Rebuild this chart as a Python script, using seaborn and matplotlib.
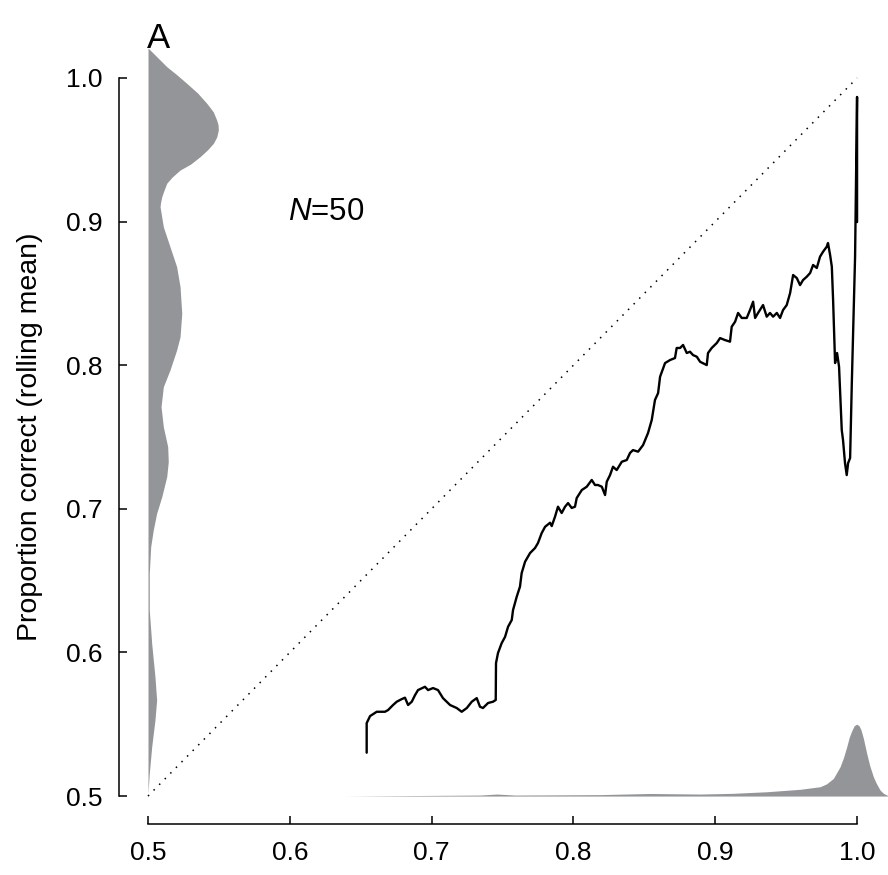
import matplotlib
matplotlib.use("Agg")
import matplotlib.pyplot as plt
import seaborn as sns
import pandas as pd

# rolling mean of proportion correct
roll_x = [0.6542, 0.6542, 0.6566, 0.6613, 0.6671, 0.6693, 0.6728, 0.6754, 0.6789, 0.6812,
          0.6834, 0.6860, 0.6883, 0.6904, 0.6953, 0.6975, 0.7010, 0.7045, 0.7080, 0.7130,
          0.7177, 0.7212, 0.7248, 0.7283, 0.7318, 0.7341, 0.7362, 0.7398, 0.7433, 0.7452,
          0.7454, 0.7468, 0.7494, 0.7518, 0.7539, 0.7565, 0.7574, 0.7600, 0.7623, 0.7635,
          0.7659, 0.7694, 0.7729, 0.7750, 0.7776, 0.7800, 0.7835, 0.7847, 0.7870, 0.7891,
          0.7917, 0.7941, 0.7962, 0.7988, 0.8011, 0.8023, 0.8059, 0.8094, 0.8129, 0.8152,
          0.8173, 0.8200, 0.8223, 0.8235, 0.8258, 0.8279, 0.8305, 0.8341, 0.8376, 0.8399,
          0.8420, 0.8456, 0.8491, 0.8526, 0.8552, 0.8575, 0.8597, 0.8611, 0.8646, 0.8681,
          0.8716, 0.8728, 0.8752, 0.8773, 0.8799, 0.8822, 0.8843, 0.8870, 0.8893, 0.8940,
          0.8949, 0.8975, 0.9011, 0.9034, 0.9069, 0.9104, 0.9116, 0.9140, 0.9161, 0.9187,
          0.9222, 0.9245, 0.9267, 0.9281, 0.9302, 0.9337, 0.9363, 0.9386, 0.9408, 0.9434,
          0.9457, 0.9478, 0.9504, 0.9528, 0.9549, 0.9575, 0.9598, 0.9619, 0.9645, 0.9669,
          0.9690, 0.9716, 0.9739, 0.9760, 0.9786, 0.9795, 0.9810, 0.9822, 0.9831, 0.9845,
          0.9859, 0.9873, 0.9892, 0.9901, 0.9915, 0.9927, 0.9937, 0.9951, 0.9963, 0.9972,
          0.9986, 0.9993, 1.0000, 1.0000]
roll_y = [0.5302, 0.5508, 0.5557, 0.5587, 0.5587, 0.5599, 0.5634, 0.5657, 0.5675, 0.5685,
          0.5634, 0.5657, 0.5703, 0.5738, 0.5761, 0.5738, 0.5752, 0.5738, 0.5682, 0.5634,
          0.5613, 0.5587, 0.5613, 0.5657, 0.5682, 0.5622, 0.5613, 0.5648, 0.5657, 0.5669,
          0.5926, 0.5996, 0.6065, 0.6109, 0.6179, 0.6226, 0.6295, 0.6388, 0.6458, 0.6553,
          0.6632, 0.6692, 0.6727, 0.6762, 0.6831, 0.6875, 0.6903, 0.6880, 0.6945, 0.7015,
          0.6971, 0.7015, 0.7040, 0.7006, 0.7015, 0.7075, 0.7131, 0.7154, 0.7201, 0.7166,
          0.7166, 0.7154, 0.7096, 0.7189, 0.7235, 0.7293, 0.7270, 0.7328, 0.7340, 0.7389,
          0.7409, 0.7398, 0.7444, 0.7528, 0.7618, 0.7758, 0.7806, 0.7920, 0.8015, 0.8036,
          0.8050, 0.8120, 0.8120, 0.8141, 0.8085, 0.8094, 0.8071, 0.8059, 0.8024, 0.8001,
          0.8085, 0.8120, 0.8155, 0.8189, 0.8175, 0.8164, 0.8268, 0.8303, 0.8364, 0.8329,
          0.8329, 0.8384, 0.8442, 0.8329, 0.8364, 0.8419, 0.8338, 0.8364, 0.8338, 0.8364,
          0.8329, 0.8384, 0.8419, 0.8503, 0.8628, 0.8607, 0.8558, 0.8593, 0.8616, 0.8642,
          0.8698, 0.8677, 0.8756, 0.8790, 0.8825, 0.8851, 0.8767, 0.8686, 0.8454, 0.8015,
          0.8085, 0.7990, 0.7549, 0.7479, 0.7319, 0.7235, 0.7319, 0.7354, 0.7876, 0.8224,
          0.8756, 0.9290, 0.9868, 0.8997]

# marginal density of y (drawn sideways on the left)
ydens_pos = [0.5021, 0.5158, 0.5343, 0.5529, 0.5669, 0.5831, 0.6063, 0.6295, 0.6551, 0.6736,
             0.6852, 0.6969, 0.7084, 0.7224, 0.7328, 0.7432, 0.7572, 0.7711, 0.7850, 0.7967,
             0.8106, 0.8198, 0.8361, 0.8547, 0.8686, 0.8825, 0.8964, 0.9104, 0.9130, 0.9173,
             0.9210, 0.9267, 0.9310, 0.9359, 0.9400, 0.9452, 0.9500, 0.9545, 0.9590, 0.9638,
             0.9675, 0.9708, 0.9765, 0.9824, 0.9895, 0.9963, 1.0025, 1.0079, 1.0150, 1.0207]
ydens_val = [0.0000, 0.0009, 0.0026, 0.0049, 0.0061, 0.0049, 0.0026, 0.0009, 0.0009, 0.0019,
             0.0037, 0.0061, 0.0097, 0.0132, 0.0143, 0.0139, 0.0108, 0.0092, 0.0108, 0.0155,
             0.0202, 0.0226, 0.0238, 0.0226, 0.0202, 0.0155, 0.0108, 0.0085, 0.0088, 0.0097,
             0.0110, 0.0132, 0.0170, 0.0226, 0.0300, 0.0367, 0.0420, 0.0461, 0.0485, 0.0496,
             0.0494, 0.0484, 0.0460, 0.0414, 0.0350, 0.0273, 0.0200, 0.0132, 0.0060, 0.0002]

# marginal density of x (drawn along the bottom)
xdens_pos = [0.6389, 0.6777, 0.7341, 0.7461, 0.7588, 0.8188, 0.8540, 0.8893, 0.9125, 0.9363,
             0.9598, 0.9739, 0.9785, 0.9833, 0.9880, 0.9905, 0.9927, 0.9945, 0.9965, 0.9980,
             0.9998, 1.0015, 1.0028, 1.0045, 1.0068, 1.0090, 1.0115, 1.0135, 1.0162, 1.0185,
             1.0209, 1.0233]
xdens_val = [0.0000, 0.0003, 0.0007, 0.0014, 0.0007, 0.0010, 0.0018, 0.0014, 0.0019, 0.0030,
             0.0047, 0.0065, 0.0085, 0.0123, 0.0204, 0.0270, 0.0343, 0.0410, 0.0460, 0.0490,
             0.0501, 0.0488, 0.0460, 0.0400, 0.0297, 0.0210, 0.0134, 0.0090, 0.0042, 0.0020,
             0.0007, 0.0000]

ticks = [0.5, 0.6, 0.7, 0.8, 0.9, 1.0]
tick_labels = ['0.5', '0.6', '0.7', '0.8', '0.9', '1.0']

sns.set_style('ticks', {'axes.edgecolor': 'black', 'xtick.color': 'black',
                        'ytick.color': 'black', 'text.color': 'black',
                        'axes.labelcolor': 'black'})
plt.rcParams['font.family'] = ['Liberation Sans', 'DejaVu Sans']
plt.rcParams['mathtext.fontset'] = 'custom'
plt.rcParams['mathtext.rm'] = 'Liberation Sans'
plt.rcParams['mathtext.it'] = 'Liberation Sans:italic'

grey = '#939598'

fig = plt.figure(figsize=(8.88, 8.75), dpi=100)
ax = fig.add_axes([0.1507, 0.0738, 0.8464, 0.8781])

ydf = pd.DataFrame({'y': ydens_pos, 'd': ydens_val})
xdf = pd.DataFrame({'x': xdens_pos, 'd': xdens_val})
ax.fill_betweenx(ydf['y'], 0.5, 0.5 + ydf['d'], color=grey, lw=0, clip_on=False)
ax.fill_between(xdf['x'], 0.5, 0.5 + xdf['d'], color=grey, lw=0, clip_on=False)

# chance / identity line
ax.plot([0.5, 1.0], [0.5, 1.0], color='black', lw=1.1, linestyle=(0, (1, 4.2)))

roll = pd.DataFrame({'x': roll_x, 'y': roll_y})
sns.lineplot(data=roll, x='x', y='y', sort=False, estimator=None,
             color='black', lw=1.7, ax=ax)

ax.set_xlim(0.49, 1.02)
ax.set_ylim(0.49, 1.025)
ax.set_xticks(ticks)
ax.set_xticklabels(tick_labels)
ax.set_yticks(ticks)
ax.set_yticklabels(tick_labels)
ax.tick_params(direction='in', length=6, width=1.1, labelsize=19, pad=12)
ax.set_xlabel('')
ax.set_ylabel('Proportion correct (rolling mean)', fontsize=20.5, labelpad=16, y=0.486)
for s in ax.spines.values():
    s.set_linewidth(1.1)

sns.despine(ax=ax, offset={'left': 10.7, 'bottom': 9.8}, trim=True)

ax.text(0.4995, 1.0209, 'A', fontsize=25, va='baseline', ha='left', clip_on=False)
ax.text(0.5985, 0.901, '$N$=50', fontsize=22.5, va='baseline', ha='left')

fig.savefig('out.png', dpi=100)
